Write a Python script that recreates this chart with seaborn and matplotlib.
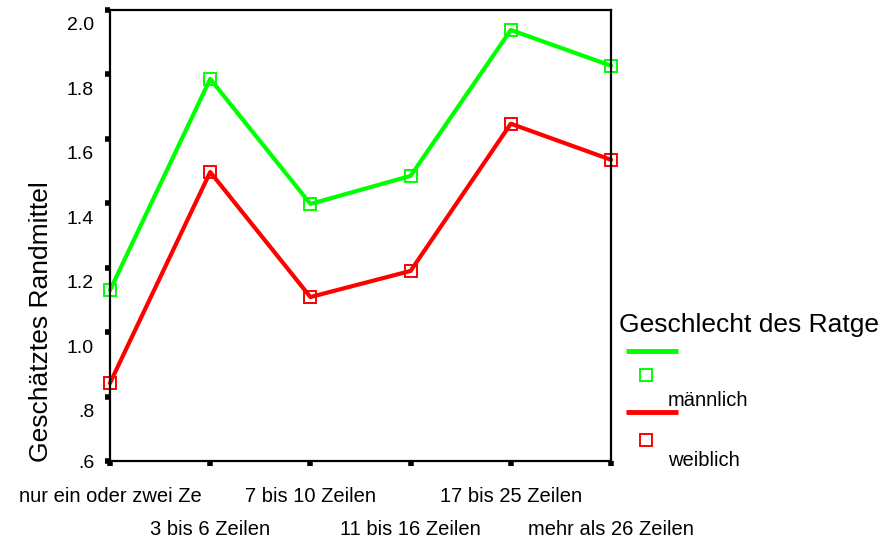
import matplotlib
matplotlib.use("Agg")
import matplotlib.pyplot as plt
import seaborn as sns
import pandas as pd
from matplotlib.transforms import ScaledTranslation

categories = ["nur ein oder zwei Ze", "3 bis 6 Zeilen", "7 bis 10 Zeilen",
              "11 bis 16 Zeilen", "17 bis 25 Zeilen", "mehr als 26 Zeilen"]
maennlich = [1.13, 1.786, 1.398, 1.485, 1.938, 1.827]
weiblich = [0.842, 1.497, 1.109, 1.19, 1.647, 1.535]
groups = ["männlich", "weiblich"]
y_ticks = [0.6, 0.8, 1.0, 1.2, 1.4, 1.6, 1.8, 2.0]
y_tick_labels = [".6", ".8", "1.0", "1.2", "1.4", "1.6", "1.8", "2.0"]
legend_title = "Geschlecht des Ratge"
y_label = "Geschätztes Randmittel"
colors = {"männlich": "#00ff00", "weiblich": "#ff0000"}

sns.set_style("white")
plt.rcParams["font.family"] = ["Liberation Sans", "DejaVu Sans"]
plt.rcParams["text.color"] = "black"
plt.rcParams["axes.labelcolor"] = "black"
plt.rcParams["xtick.color"] = "black"
plt.rcParams["ytick.color"] = "black"

df = pd.DataFrame({
    "Kategorie": categories * 2,
    "pos": list(range(len(categories))) * 2,
    "Randmittel": maennlich + weiblich,
    "Geschlecht": [groups[0]] * len(categories) + [groups[1]] * len(categories),
})

W, H = 886, 546
fig = plt.figure(figsize=(W / 100, H / 100), dpi=100)
L, R, T, B = 110, 611, 10, 461
ax = fig.add_axes([L / W, (H - B) / H, (R - L) / W, (B - T) / H])

sns.lineplot(data=df, x="pos", y="Randmittel", hue="Geschlecht", style="Geschlecht",
             palette=colors, markers=["s", "s"], dashes=False, linewidth=3.0,
             markersize=9, markerfacecolor="none", legend=False, ax=ax)
for ln in ax.lines:
    ln.set_markeredgecolor(ln.get_color())
    ln.set_markeredgewidth(1.4)
    ln.set_clip_on(False)

ax.set_xlim(0, len(categories) - 1)
ax.set_ylim(0.6, 2.0)
ax.set_xticks(range(len(categories)))
ax.set_xticklabels(categories, fontsize=14.5)
ax.set_yticks(y_ticks)
ax.set_yticklabels(y_tick_labels, fontsize=14)
ax.set_xlabel("")
ax.set_ylabel(y_label, fontsize=19)
ax.yaxis.set_label_coords(-0.114, (B - 322) / (B - T))

for s in ax.spines.values():
    s.set_color("black")
    s.set_linewidth(1.6)
ax.tick_params(axis="both", direction="out", length=3.5, width=4, color="black",
               bottom=True, left=True, labelcolor="black")
ax.tick_params(axis="y", pad=8)
for i, t in enumerate(ax.xaxis.get_major_ticks()):
    t.set_pad(15 if i % 2 == 0 else 39)
for lab in ax.get_yticklabels()[1:]:
    lab.set_transform(lab.get_transform() + ScaledTranslation(0, -0.14, fig.dpi_scale_trans))

# legend drawn in pixel coordinates
lg = fig.add_axes([0, 0, 1, 1])
lg.set_xlim(0, W)
lg.set_ylim(H, 0)
lg.axis("off")
lg.patch.set_alpha(0)
lg.text(619, 325, legend_title, fontsize=19, va="center", ha="left", color="black")
rows = [(350.7, 375, 400), (412, 439.5, 461)]
for g, (ly, my, ty) in zip(groups, rows):
    lg.plot([626, 678], [ly, ly], color=colors[g], linewidth=3.5, solid_capstyle="butt")
    lg.plot([646], [my], marker="s", markersize=9, markerfacecolor="none",
            markeredgecolor=colors[g], markeredgewidth=1.4, linestyle="none")
    lg.text(668, ty, g, fontsize=14.5, va="center", ha="left", color="black")

fig.savefig("out.png", dpi=100)
